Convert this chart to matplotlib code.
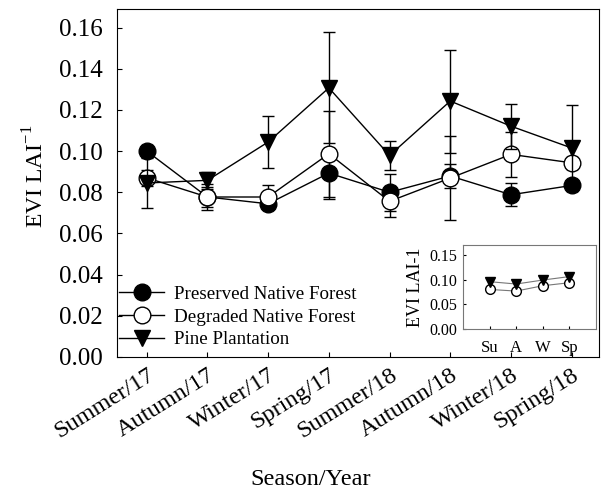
import matplotlib
matplotlib.use("Agg")
import matplotlib.pyplot as plt

plt.rcParams['font.family'] = ['Liberation Serif', 'DejaVu Serif']
plt.rcParams['mathtext.fontset'] = 'custom'
plt.rcParams['mathtext.rm'] = 'Liberation Serif'

seasons = ["Summer/17", "Autumn/17", "Winter/17", "Spring/17",
           "Summer/18", "Autumn/18", "Winter/18", "Spring/18"]
preserved = [0.100, 0.0777, 0.0744, 0.0893, 0.0800, 0.0879, 0.0788, 0.0833]
preserved_err = [0.003, 0.0047, 0.002, 0.0124, 0.009, 0.006, 0.0055, 0.002]
degraded = [0.0870, 0.0777, 0.0777, 0.0987, 0.0756, 0.0869, 0.0984, 0.0943]
degraded_err = [0.004, 0.0064, 0.006, 0.021, 0.0075, 0.0206, 0.011, 0.003]
pine = [0.0845, 0.0858, 0.1044, 0.1307, 0.0979, 0.1243, 0.1121, 0.1015]
pine_err = [0.012, 0.004, 0.0125, 0.027, 0.0071, 0.025, 0.011, 0.0207]

inset_labels = ["Su", "A", "W", "Sp"]
inset_degraded = [0.080, 0.0767, 0.0875, 0.0936]
inset_pine = [0.0957, 0.0910, 0.0990, 0.1060]

fig = plt.figure(figsize=(6.04, 4.93), dpi=100)
ax = fig.add_axes([0.1937, 0.2759, 0.798, 0.7058])
x = list(range(len(seasons)))

ms = 12
ax.errorbar(x, preserved, yerr=preserved_err, color='black', lw=1, marker='o', ms=ms,
            mfc='black', mec='black', capsize=4, elinewidth=1, label='Preserved Native Forest', zorder=3)
ax.errorbar(x, degraded, yerr=degraded_err, color='black', lw=1, marker='o', ms=ms,
            mfc='white', mec='black', capsize=4, elinewidth=1, label='Degraded Native Forest', zorder=4)
ax.errorbar(x, pine, yerr=pine_err, color='black', lw=1, marker='v', ms=ms,
            mfc='black', mec='black', capsize=4, elinewidth=1, label='Pine Plantation', zorder=5)

ax.set_xlim(-0.49, 7.45)
ax.set_ylim(0, 0.169)
ax.set_yticks([0.00, 0.02, 0.04, 0.06, 0.08, 0.10, 0.12, 0.14, 0.16])
ax.set_yticklabels([f"{v:.2f}" for v in ax.get_yticks()], fontsize=18)
ax.set_xticks(x)
ax.set_xticklabels(seasons, rotation=32, ha='right', rotation_mode='anchor', fontsize=17.5)
ax.tick_params(axis='y', direction='in', length=3.5, pad=10)
ax.tick_params(axis='x', direction='in', length=3.5, pad=5.5)
ax.set_xlabel("Season/Year", fontsize=17.5)
ax.xaxis.set_label_coords(0.402, -0.322)
ax.set_ylabel("EVI LAI$^{-1}$", fontsize=17)
ax.yaxis.set_label_coords(-0.143, 0.52)

handles, labels = ax.get_legend_handles_labels()
handles = [h[0] for h in handles]
ax.legend(handles, labels, loc='lower left', frameon=False, fontsize=13.7,
          borderaxespad=0.0, bbox_to_anchor=(-0.012, 0.003), handlelength=2.4,
          handletextpad=0.5, labelspacing=0.28)

ins = fig.add_axes([0.7666, 0.3327, 0.220, 0.1704])
xi = list(range(len(inset_labels)))
ins.plot(xi, inset_degraded, color='#777777', lw=0.8, marker='o', ms=7, mfc='white', mec='black', zorder=3)
ins.plot(xi, inset_pine, color='#777777', lw=0.8, marker='v', ms=7, mfc='black', mec='black', zorder=4)
ins.set_xlim(-1, 4)
ins.set_ylim(0, 0.17)
ins.set_yticks([0.00, 0.05, 0.10, 0.15])
ins.set_yticklabels([f"{v:.2f}" for v in ins.get_yticks()], fontsize=11.5)
ins.set_xticks(xi)
ins.set_xticklabels(inset_labels, fontsize=12)
ins.tick_params(axis='y', direction='in', length=2, pad=4)
ins.tick_params(axis='x', direction='in', length=2, pad=8)
ins.set_ylabel("EVI LAI-1", fontsize=13, labelpad=4)
for s in ins.spines.values():
    s.set_color('#777777')

fig.savefig("out.png", dpi=100)
